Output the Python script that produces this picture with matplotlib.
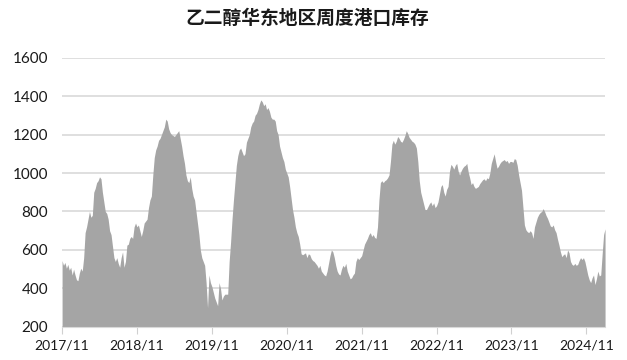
import matplotlib
matplotlib.use("Agg")
import matplotlib.pyplot as plt
import numpy as np

# 周度库存（万吨），每段从当年11月起算52周
kucun_2017 = [545, 520, 535, 505, 525, 495, 510, 470, 500, 470, 445, 440, 480, 505, 490, 560,
              690, 720, 760, 800, 770, 780, 900, 920, 950, 960, 980, 970, 900, 850, 800, 790,
              760, 700, 680, 620, 560, 540, 560, 530, 510, 560, 590, 510, 540, 625, 630, 660,
              670, 660, 720, 740]
kucun_2018 = [720, 730, 700, 670, 700, 740, 750, 760, 820, 860, 880, 990, 1080, 1120, 1140, 1170,
              1180, 1200, 1220, 1240, 1280, 1270, 1230, 1210, 1200, 1195, 1190, 1200, 1210, 1220, 1180, 1140,
              1090, 1050, 990, 960, 950, 980, 920, 880, 860, 800, 740, 680, 600, 560, 540, 520,
              430, 300, 470, 430]
kucun_2019 = [410, 380, 350, 330, 310, 430, 400, 340, 360, 370, 370, 370, 540, 640, 760, 860,
              950, 1040, 1090, 1120, 1130, 1110, 1090, 1100, 1160, 1180, 1200, 1240, 1260, 1270, 1300, 1310,
              1330, 1360, 1380, 1370, 1350, 1360, 1330, 1340, 1320, 1290, 1280, 1280, 1270, 1220, 1200, 1140,
              1110, 1080, 1060, 1020]
kucun_2020 = [1000, 980, 930, 870, 810, 770, 720, 690, 670, 630, 580, 575, 580, 585, 560, 580,
              575, 555, 545, 540, 530, 520, 505, 520, 490, 480, 470, 465, 490, 530, 570, 600,
              590, 560, 520, 490, 475, 470, 500, 520, 510, 530, 490, 470, 450, 455, 470, 480,
              540, 560, 550, 560]
kucun_2021 = [570, 600, 630, 645, 660, 680, 690, 670, 680, 665, 660, 720, 860, 950, 960, 950,
              960, 965, 975, 990, 1060, 1150, 1170, 1150, 1165, 1190, 1180, 1165, 1160, 1175, 1195, 1220,
              1205, 1185, 1175, 1165, 1160, 1150, 1130, 1060, 960, 900, 870, 840, 810, 810, 825, 840,
              850, 830, 845, 820]
kucun_2022 = [830, 850, 890, 930, 940, 900, 880, 915, 930, 1010, 1045, 1035, 1020, 1040, 1050, 1010,
              990, 1010, 1025, 1035, 1040, 1050, 1005, 975, 940, 950, 930, 920, 925, 930, 945, 955,
              965, 970, 960, 975, 970, 1000, 1050, 1075, 1100, 1060, 1025, 1035, 1050, 1060, 1065, 1070,
              1060, 1065, 1050, 1060]
kucun_2023 = [1060, 1055, 1075, 1070, 1040, 990, 950, 910, 820, 730, 705, 695, 690, 700, 690, 660,
              720, 745, 770, 785, 795, 800, 815, 800, 780, 765, 745, 725, 720, 730, 705, 690,
              655, 625, 590, 565, 575, 580, 560, 600, 585, 540, 525, 520, 530, 520, 525, 545,
              560, 550, 560, 540]
kucun_2024 = [505, 470, 445, 430, 455, 470, 420, 450, 490, 465, 470, 580, 680, 710]

tick_labels = ["2017/11", "2018/11", "2019/11", "2020/11",
               "2021/11", "2022/11", "2023/11", "2024/11"]

kucun = (kucun_2017 + kucun_2018 + kucun_2019 + kucun_2020 +
         kucun_2021 + kucun_2022 + kucun_2023 + kucun_2024)
x = np.arange(len(kucun))

plt.rcParams['font.family'] = ['Lato', 'Noto Sans CJK SC', 'DejaVu Sans']

fig = plt.figure(figsize=(6.27, 3.6), dpi=100)
ax = fig.add_axes([0.099, 0.092, 0.866, 0.748])

ax.fill_between(x, 200, kucun, color="#a5a5a5", linewidth=0, zorder=2)

ax.set_ylim(200, 1600)
ax.set_yticks(range(200, 1601, 200))
ax.set_xlim(0, len(kucun) - 1)
ax.set_xticks([52 * i for i in range(len(tick_labels))])
ax.set_xticklabels(tick_labels)

ax.grid(axis="y", color="#d9d9d9", linewidth=1.2, zorder=1)
for s in ["top", "right", "left"]:
    ax.spines[s].set_visible(False)
ax.spines["bottom"].set_color("#d9d9d9")
ax.tick_params(axis="y", length=0, labelsize=11, pad=10, labelcolor="#1a1a1a")
ax.tick_params(axis="x", length=5, color="#d0d0d0", labelsize=10, pad=4, labelcolor="#1a1a1a")

fig.text(0.49, 0.95, "乙二醇华东地区周度港口库存", ha="center", va="center",
         fontsize=13.5, fontweight="bold", family=["Noto Sans CJK SC", "DejaVu Sans"],
         color="#1a1a1a")

fig.savefig("out.png", dpi=100)
